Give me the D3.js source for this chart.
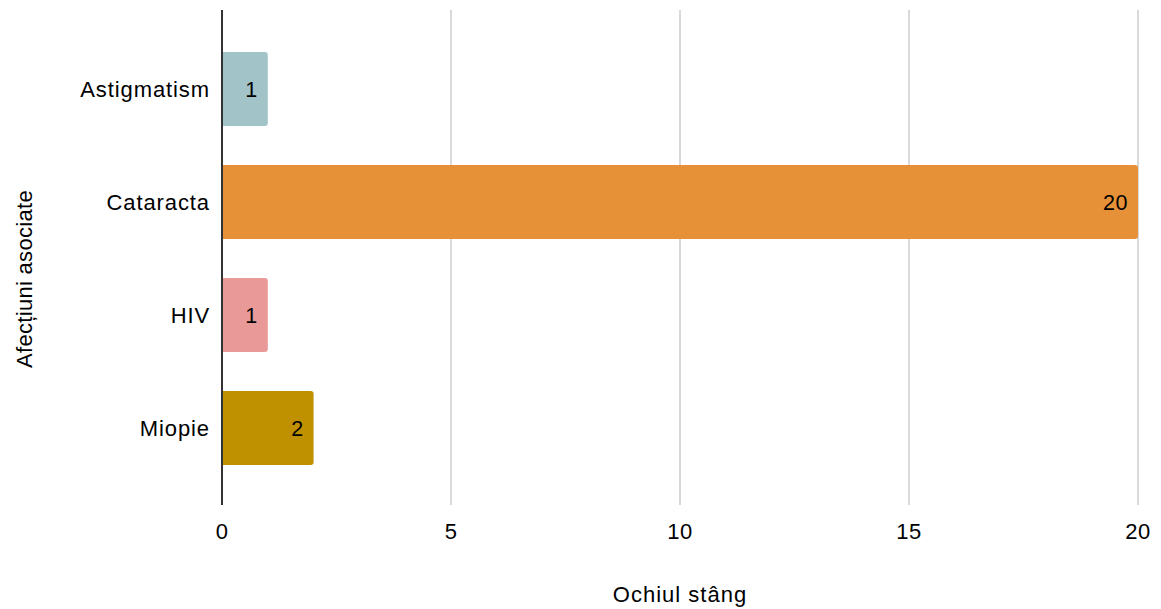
<!DOCTYPE html>
<html>
<head>
<meta charset="utf-8">
<script src="https://cdn.jsdelivr.net/npm/d3@7"></script>
<style>
  html, body { margin: 0; padding: 0; background: #fff; }
  text { font-family: "Liberation Sans", Arial, sans-serif; fill: #000; }
</style>
</head>
<body>
<svg id="chart" width="1161" height="609"></svg>
<script>
// Associated conditions, left eye counts
const categories = ["Astigmatism", "Cataracta", "HIV", "Miopie"];
const values = [1, 20, 1, 2];
const colors = ["#a2c4c9", "#e69138", "#ea9999", "#bf9000"];
const xTicks = [0, 5, 10, 15, 20];
const xTitle = "Ochiul stâng";
const yTitle = "Afecțiuni asociate";

const svg = d3.select("#chart");
const plotTop = 10, plotBottom = 505;

const x = d3.scaleLinear().domain([0, 20]).range([222, 1138]);
const y = d3.scaleBand().domain(categories).range([32.5, 484.5]).paddingInner(0.345).paddingOuter(0.1725);

// vertical gridlines
svg.append("g").selectAll("line").data(xTicks.filter(d => d !== 0)).join("line")
  .attr("x1", d => x(d)).attr("x2", d => x(d))
  .attr("y1", plotTop).attr("y2", plotBottom)
  .attr("stroke", "#cccccc").attr("stroke-width", 1.5);

// bars with rounded right corners
function barPath(x0, x1, y0, h, r) {
  return `M${x0},${y0} H${x1 - r} Q${x1},${y0} ${x1},${y0 + r} V${y0 + h - r} Q${x1},${y0 + h} ${x1 - r},${y0 + h} H${x0} Z`;
}
svg.append("g").selectAll("path").data(categories).join("path")
  .attr("d", (c, i) => barPath(x(0), x(values[i]), y(c), y.bandwidth(), 3))
  .attr("fill", (c, i) => colors[i]);

// value labels
svg.append("g").selectAll("text").data(categories).join("text")
  .attr("x", (c, i) => x(values[i]) - 10)
  .attr("y", c => y(c) + y.bandwidth() / 2)
  .attr("dy", "0.36em")
  .attr("text-anchor", "end")
  .attr("font-size", 21.5)
  .attr("letter-spacing", 0.5)
  .text((c, i) => values[i]);

// y axis line
svg.append("line")
  .attr("x1", x(0)).attr("x2", x(0))
  .attr("y1", plotTop).attr("y2", plotBottom)
  .attr("stroke", "#333").attr("stroke-width", 2);

// category labels
svg.append("g").selectAll("text").data(categories).join("text")
  .attr("x", 210)
  .attr("y", c => y(c) + y.bandwidth() / 2)
  .attr("dy", "0.36em")
  .attr("text-anchor", "end")
  .attr("font-size", 22)
  .attr("letter-spacing", 0.9)
  .text(c => c);

// x tick labels
svg.append("g").selectAll("text").data(xTicks).join("text")
  .attr("x", d => x(d))
  .attr("y", 531)
  .attr("dy", "0.36em")
  .attr("text-anchor", "middle")
  .attr("font-size", 22)
  .attr("letter-spacing", 0.5)
  .text(d => d);

// axis titles
svg.append("text")
  .attr("x", 680).attr("y", 594)
  .attr("dy", "0.36em")
  .attr("text-anchor", "middle")
  .attr("font-size", 22)
  .attr("letter-spacing", 1)
  .text(xTitle);

svg.append("text")
  .attr("transform", "translate(24,279) rotate(-90)")
  .attr("dy", "0.36em")
  .attr("text-anchor", "middle")
  .attr("font-size", 22)
  .attr("letter-spacing", 0.3)
  .text(yTitle);
</script>
</body>
</html>
